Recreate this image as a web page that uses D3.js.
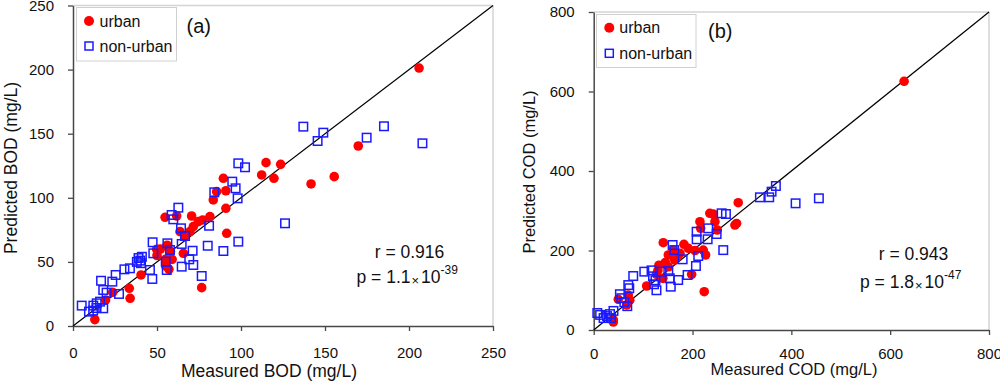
<!DOCTYPE html>
<html><head><meta charset="utf-8">
<script src="https://cdn.jsdelivr.net/npm/d3@7"></script>
<style>
html,body{margin:0;padding:0;background:#fff;}
svg{display:block;font-family:"Liberation Sans",Arial,sans-serif;}
</style></head>
<body><svg id="c" width="1000" height="384"></svg>
<script>
// ---- data (a) BOD ----
const bodTicks = [0, 50, 100, 150, 200, 250];
const bodUrban = [[13,5],[19.4,20.3],[23.6,26.3],[33.5,29.4],[34,21.6],[40.5,39.8],[55.2,46.8],[57.1,44.2],[54.8,84.8],[61.7,85.8],[70.6,85.8],[76.6,29.9],[49.8,59.8],[52,60],[56,63],[50,55],[55,52],[59,52],[58,58],[63.7,73.6],[66.7,69.7],[65.7,56.7],[69.6,73.6],[71.6,77.5],[74.6,81.4],[77.2,82.7],[81.5,85.3],[83.5,98.3],[85.5,104.8],[89.5,115.2],[91,105.5],[91,91.8],[91.5,72.3],[112.3,117.8],[114.9,127.4],[119.6,115.2],[123.6,126.1],[141.7,110.8],[155.5,116.5],[169.8,140.4],[206,201.2]];
const bodNonUrban = [[5.2,15.9],[9.5,11.2],[12.1,15.9],[12,12],[14.1,17.7],[14,14],[16.1,19],[18,13.8],[16.7,35.3],[18,28.1],[20,26],[23.4,34.6],[25.4,39.8],[27.4,25],[30.6,44.2],[33.9,45],[38,50],[39,53],[40,51],[41,54],[40.5,49],[45.8,43.7],[47.2,36.7],[47.4,65.3],[47.8,56.7],[55.2,50.2],[55.8,43.7],[56.2,64.5],[57.7,59.3],[58.7,86.6],[59.7,83.2],[62.7,92.3],[64.3,76.2],[64.7,64],[64.7,46.3],[66.7,70.2],[69.2,52],[71.2,58.7],[71.6,47.6],[76.6,39],[80.2,62.6],[81,78.2],[84.1,104.3],[89.5,58.5],[94.8,112.6],[96.8,107.4],[98,99.6],[98.4,65.8],[98.4,126.9],[102.4,123.8],[126.2,80.1],[137.1,155.5],[145.6,144.3],[149,150.8],[174.8,146.9],[185.1,155.8],[208,142.5]];
// ---- data (b) COD ----
const codTicks = [0, 200, 400, 600, 800];
const codUrban = [[39.7,20],[39.7,25.2],[49.8,77.2],[67,63],[70,88],[73,75],[107.2,110.7],[127,140],[132,163],[130,150],[140,130],[140.8,219.6],[145,170],[151,159],[151,188.7],[161,201],[164,176],[170,185],[174.6,193],[182.6,215.6],[191.4,205.5],[198.2,140],[205,200],[215,272.5],[216.4,255.8],[221.7,201],[223.7,96.4],[226.4,188.7],[235,293.6],[242,291.8],[245.4,272.5],[250,251.6],[285.8,264],[289.2,268],[292.5,320.3],[628.2,625.7]];
const codNonUrban = [[7.3,42.8],[13,38],[20,30],[27,35],[33,40],[40,48],[35,30],[53,90],[56,80],[62,70],[68,60],[70,113],[72,105],[80,135.8],[102.4,146.8],[117,150],[120,135],[122,115],[127,100],[125,125],[137.5,146.8],[151,148],[156,109],[154,130],[159.7,213.8],[163,201],[171,125.8],[180,177.8],[190,138.4],[206.9,161],[211.6,186.2],[208.3,247.3],[208.3,228.2],[231.8,255.8],[230.6,228.2],[248.8,241.5],[258.9,293.6],[267.6,291.8],[262.2,201],[336.4,333.8],[355.2,333.8],[360,348],[368.7,362.3],[408.6,318.7],[455.7,331.3]];
const seriesNames = ["urban", "non-urban"];

const svg = d3.select("#c");
const RED = "#ff0000", BLUE = "#1a1aff";

function panel(o) {
  const x = d3.scaleLinear().domain(o.domain).range([o.x0, o.x1]);
  const y = d3.scaleLinear().domain(o.domain).range([o.y0, o.y1]);
  const g = svg.append("g");
  // top/right frame
  g.append("line").attr("x1", o.x0).attr("x2", o.x1).attr("y1", o.y1).attr("y2", o.y1)
    .attr("stroke", "#d4d4d4").attr("stroke-width", 1.5);
  g.append("line").attr("x1", o.x1).attr("x2", o.x1).attr("y1", o.y1).attr("y2", o.y0)
    .attr("stroke", "#d4d4d4").attr("stroke-width", 1.5);
  // axes
  const xa = g.append("g").attr("transform", `translate(0,${o.y0})`)
    .call(d3.axisBottom(x).tickValues(o.ticks).tickSize(5).tickSizeOuter(0).tickPadding(o.xpad));
  const ya = g.append("g").attr("transform", `translate(${o.x0},0)`)
    .call(d3.axisLeft(y).tickValues(o.ticks).tickSize(5).tickSizeOuter(0).tickPadding(14));
  [xa, ya].forEach(a => {
    a.select(".domain").attr("stroke", "#484848").attr("stroke-width", 1.5);
    a.selectAll(".tick line").attr("stroke", "#484848").attr("stroke-width", 1.3);
    a.selectAll("text").attr("font-size", 15).attr("fill", "#111")
      .attr("font-family", "'Liberation Sans',Arial,sans-serif");
  });
  // diagonal 1:1 line
  g.append("line").attr("x1", x(o.domain[0])).attr("y1", y(o.domain[0]))
    .attr("x2", x(o.domain[1])).attr("y2", y(o.domain[1]))
    .attr("stroke", "#000").attr("stroke-width", 1.2);
  // points
  g.append("g").selectAll("circle").data(o.urban).join("circle")
    .attr("cx", d => x(d[0])).attr("cy", d => y(d[1])).attr("r", 4.8).attr("fill", RED);
  const s = 8.5;
  g.append("g").selectAll("rect").data(o.non).join("rect")
    .attr("x", d => x(d[0]) - s/2).attr("y", d => y(d[1]) - s/2)
    .attr("width", s).attr("height", s).attr("fill", "none")
    .attr("stroke", BLUE).attr("stroke-width", 1.5);
  // titles
  g.append("text").attr("x", o.xtx).attr("y", o.xty).attr("text-anchor", "middle")
    .attr("font-size", o.tfs).attr("fill", "#111").text(o.xtitle);
  g.append("text").attr("transform", `translate(${o.ytx},${o.yty}) rotate(-90)`)
    .attr("text-anchor", "middle").attr("font-size", o.tfs).attr("fill", "#111").text(o.ytitle);
  // legend
  const L = o.leg;
  g.append("rect").attr("x", L.x).attr("y", L.y).attr("width", L.w).attr("height", L.h)
    .attr("fill", "#fff").attr("stroke", "#d0d0d0").attr("stroke-width", 1);
  g.append("circle").attr("cx", L.mx).attr("cy", L.r1).attr("r", 5).attr("fill", RED);
  g.append("rect").attr("x", L.mx - 4).attr("y", L.r2 - 4).attr("width", 8).attr("height", 8)
    .attr("fill", "none").attr("stroke", BLUE).attr("stroke-width", 1.5);
  g.append("text").attr("x", L.tx).attr("y", L.r1 + 5.5).attr("font-size", 16).attr("fill", "#111").text(seriesNames[0]);
  g.append("text").attr("x", L.tx).attr("y", L.r2 + 5.5).attr("font-size", 16).attr("fill", "#111").text(seriesNames[1]);
  // panel label
  g.append("text").attr("x", o.lab.x).attr("y", o.lab.y).attr("font-size", 20).attr("fill", "#111").text(o.lab.t);
  // stats
  g.append("text").attr("x", o.st.rx).attr("y", o.st.ry).attr("text-anchor", "middle")
    .attr("font-size", 17.5).attr("fill", "#111").text(o.st.r);
  const p = g.append("text").attr("x", o.st.px).attr("y", o.st.py).attr("font-size", 17.5).attr("fill", "#111");
  p.append("tspan").text(o.st.p1);
  p.append("tspan").attr("font-size", 13).attr("dx", 1).attr("dy", 2).text("×");
  p.append("tspan").attr("dy", -2).attr("dx", 2).text("10");
  p.append("tspan").attr("font-size", 12).attr("dy", -9).text(o.st.exp);
}

panel({
  domain: [0, 250], ticks: bodTicks, x0: 73, x1: 493, y0: 326, y1: 5.5, xpad: 16,
  urban: bodUrban, non: bodNonUrban,
  xtitle: "Measured BOD (mg/L)", ytitle: "Predicted BOD (mg/L)", tfs: 17.5,
  xtx: 269, xty: 376.5, ytx: 17, yty: 168,
  leg: {x: 76.5, y: 7.5, w: 100, h: 53.5, mx: 89, r1: 21, r2: 46, tx: 99.5},
  lab: {x: 186.5, y: 32.5, t: "(a)"},
  st: {r: "r = 0.916", rx: 409.5, ry: 258, p1: "p = 1.1", px: 356.5, py: 283, exp: "-39"}
});
panel({
  domain: [0, 800], ticks: codTicks, x0: 593.7, x1: 989, y0: 330, y1: 12, xpad: 13,
  urban: codUrban, non: codNonUrban,
  xtitle: "Measured COD (mg/L)", ytitle: "Predicted COD (mg/L)", tfs: 16.5,
  xtx: 794, xty: 374.5, ytx: 535, yty: 172,
  leg: {x: 596.5, y: 14.5, w: 99.5, h: 53, mx: 609.3, r1: 27.7, r2: 53.3, tx: 619.3},
  lab: {x: 708, y: 37.5, t: "(b)"},
  st: {r: "r = 0.943", rx: 913.5, ry: 259.5, p1: "p = 1.8", px: 860, py: 287.5, exp: "-47"}
});
</script></body></html>
